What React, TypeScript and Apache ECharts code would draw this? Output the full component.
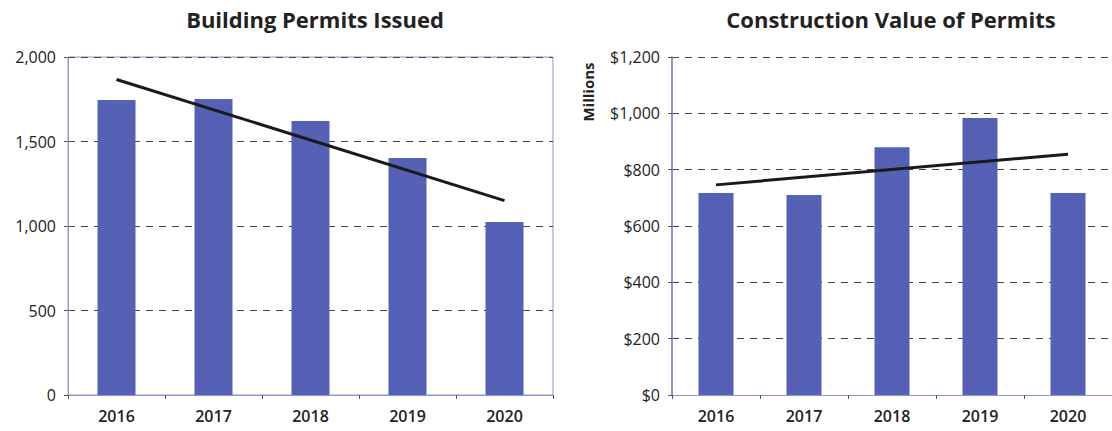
import React, { useEffect, useRef } from "react";
import * as echarts from "echarts";

const years = ["2016", "2017", "2018", "2019", "2020"];
const permitsIssued = [1746, 1751, 1621, 1402, 1024];
const permitsTrend: [string, number][] = [["2016", 1867], ["2020", 1150]];
const constructionValue = [717, 710, 880, 983, 717];
const valueTrend: [string, number][] = [["2016", 746], ["2020", 855]];

const leftTitle = "Building Permits Issued";
const rightTitle = "Construction Value of Permits";
const rightAxisName = "Millions";

const FONT = "'Open Sans', 'Noto Sans', sans-serif";
const BAR = "#5461B5";

function fmt(n: number) {
  return n.toLocaleString("en-US");
}

export default function App() {
  const ref = useRef<HTMLDivElement>(null);
  useEffect(() => {
    if (!ref.current) return;
    const chart = echarts.init(ref.current, undefined, { renderer: "svg" });
    const yLabel = { color: "#222", fontFamily: FONT, fontSize: 16, margin: 12 };
    const xLabel = { color: "#222", fontFamily: FONT, fontSize: 16, fontWeight: 600, margin: 13 };
    const splitLine = { show: true, lineStyle: { type: [7, 6], color: "#444", width: 1 } };
    const tick = { show: true, length: 4, lineStyle: { color: "#555" } };
    chart.setOption({
      animation: false,
      backgroundColor: "#fff",
      title: [
        { text: leftTitle, left: 310, top: 3, textAlign: "center", textStyle: { fontFamily: FONT, fontSize: 22, fontWeight: "bold", color: "#222" } },
        { text: rightTitle, left: 886, top: 3, textAlign: "center", textStyle: { fontFamily: FONT, fontSize: 22, fontWeight: "bold", color: "#222" } },
      ],
      graphic: [
        { type: "text", x: 588, y: 92, rotation: Math.PI / 2, style: { text: rightAxisName, align: "center", verticalAlign: "middle", fontFamily: FONT, fontSize: 15, fontWeight: "bold", fill: "#222" } },
      ],
      grid: [
        { left: 68, right: 559, top: 57, bottom: 36, show: true, borderColor: "#8f96cc", borderWidth: 1, backgroundColor: "transparent" },
        { left: 672, right: 0, top: 57, bottom: 36 },
      ],
      xAxis: [
        { type: "category", gridIndex: 0, data: years, axisLine: { lineStyle: { color: "#8f96cc" } }, axisTick: tick, axisLabel: xLabel },
        { type: "category", gridIndex: 1, data: years, axisLine: { lineStyle: { color: "#8f96cc" } }, axisTick: tick, axisLabel: xLabel },
      ],
      yAxis: [
        { type: "value", gridIndex: 0, min: 0, max: 2000, interval: 500, axisLine: { show: true, lineStyle: { color: "#8f96cc" } }, axisTick: tick, splitLine, axisLabel: { ...yLabel, formatter: (v: number) => fmt(v) } },
        { type: "value", gridIndex: 1, min: 0, max: 1200, interval: 200,
          axisLine: { show: true, lineStyle: { color: "#6a74c4", width: 1.5 } }, axisTick: tick, splitLine, axisLabel: { ...yLabel, formatter: (v: number) => "$" + fmt(v) } },
      ],
      series: [
        { type: "bar", xAxisIndex: 0, yAxisIndex: 0, data: permitsIssued, barWidth: 38, itemStyle: { color: BAR } },
        { type: "line", xAxisIndex: 0, yAxisIndex: 0, data: permitsTrend, symbol: "none", lineStyle: { color: "#1a1a1a", width: 3 } },
        { type: "bar", xAxisIndex: 1, yAxisIndex: 1, data: constructionValue, barWidth: 35, itemStyle: { color: BAR } },
        { type: "line", xAxisIndex: 1, yAxisIndex: 1, data: valueTrend, symbol: "none", lineStyle: { color: "#1a1a1a", width: 3 } },
      ],
    });
    return () => chart.dispose();
  }, []);
  return <div ref={ref} style={{ position: "fixed", left: 0, top: 0, width: 1112, height: 431 }} />;
}
